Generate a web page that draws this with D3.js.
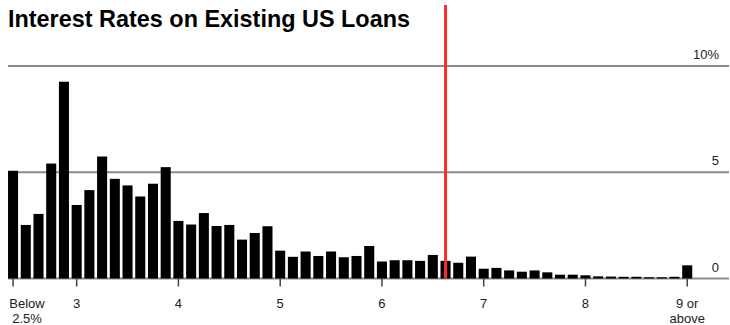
<!DOCTYPE html>
<html>
<head>
<meta charset="utf-8">
<script src="https://cdn.jsdelivr.net/npm/d3@7"></script>
<style>
  html, body { margin: 0; padding: 0; background: #fff; }
  svg { display: block; font-family: "Liberation Sans", Arial, Helvetica, sans-serif; }
</style>
</head>
<body>
<svg id="chart" width="730" height="325"></svg>
<script>
// Rate bins: "Below 2.5%", then 2.5% ... 8.875% in 0.125 steps, then "9 or above"
const bins = d3.range(54);
const shares = [
  5.07, 2.52, 3.04, 5.41, 9.26, 3.46, 4.16, 5.74, 4.69, 4.38,
  3.86, 4.46, 5.24, 2.71, 2.54, 3.08, 2.47, 2.52, 1.83, 2.14,
  2.46, 1.31, 1.02, 1.27, 1.06, 1.27, 1.00, 1.06, 1.53, 0.80,
  0.86, 0.86, 0.83, 1.11, 0.83, 0.74, 1.03, 0.46, 0.50, 0.38,
  0.32, 0.38, 0.29, 0.18, 0.18, 0.15, 0.10, 0.09, 0.08, 0.08,
  0.06, 0.06, 0.08, 0.62
];
const xTickBins = [0, 5, 13, 21, 29, 37, 45, 53];
const xTickLabels = [["Below", "2.5%"], ["3"], ["4"], ["5"], ["6"], ["7"], ["8"], ["9 or", "above"]];
const yTicks = [0, 5, 10];
const yTickLabels = ["0", "5", "10%"];
const markerBin = 34; // current rate ~6.625%
const title = "Interest Rates on Existing US Loans";

const svg = d3.select("#chart");

const x = d3.scaleBand()
  .domain(bins)
  .range([6.7, 6.7 + 54 * 12.72])
  .paddingInner(0.21)
  .paddingOuter(0.105);

const y = d3.scaleLinear().domain([0, 10]).range([278.5, 66]);

// gridlines
svg.append("g").selectAll("line")
  .data(yTicks)
  .join("line")
  .attr("x1", 8).attr("x2", 729)
  .attr("y1", d => y(d)).attr("y2", d => y(d))
  .attr("stroke", "#8a8a8a")
  .attr("stroke-width", 1.8);

// y labels
svg.append("g").selectAll("text")
  .data(yTicks)
  .join("text")
  .attr("x", 719)
  .attr("y", d => y(d) - 7)
  .attr("text-anchor", "end")
  .attr("font-size", 13)
  .attr("fill", "#222")
  .text((d, i) => yTickLabels[i]);

// bars
svg.append("g").selectAll("rect")
  .data(bins)
  .join("rect")
  .attr("x", d => x(d))
  .attr("width", x.bandwidth())
  .attr("y", d => y(shares[d]))
  .attr("height", d => y(0) - y(shares[d]))
  .attr("fill", "#000");

// x axis ticks
const ax = svg.append("g");
ax.selectAll("line")
  .data(xTickBins)
  .join("line")
  .attr("x1", d => x(d) + x.bandwidth() / 2)
  .attr("x2", d => x(d) + x.bandwidth() / 2)
  .attr("y1", y(0))
  .attr("y2", y(0) + 8)
  .attr("stroke", "#444")
  .attr("stroke-width", 1.5);

ax.selectAll("text")
  .data(xTickBins)
  .join("text")
  .attr("x", (d, i) => i === 0 ? 27 : x(d) + x.bandwidth() / 2)
  .attr("y", 308)
  .attr("text-anchor", "middle")
  .attr("font-size", 13)
  .attr("fill", "#222")
  .each(function(d, i) {
    const t = d3.select(this);
    const cx = i === 0 ? 27 : x(d) + x.bandwidth() / 2;
    xTickLabels[i].forEach((line, j) => {
      t.append("tspan").attr("x", cx).attr("dy", j === 0 ? 0 : 15).text(line);
    });
  });

// marker line
svg.append("line")
  .attr("x1", x(markerBin) + x.bandwidth() / 2)
  .attr("x2", x(markerBin) + x.bandwidth() / 2)
  .attr("y1", 5)
  .attr("y2", y(0))
  .attr("stroke", "#ff2a2a")
  .attr("stroke-width", 3);

// title
svg.append("text")
  .attr("x", 8)
  .attr("y", 26.5)
  .attr("font-size", 24)
  .attr("font-weight", "bold")
  .attr("fill", "#000")
  .attr("textLength", 402)
  .attr("lengthAdjust", "spacingAndGlyphs")
  .text(title);
</script>
</body>
</html>
